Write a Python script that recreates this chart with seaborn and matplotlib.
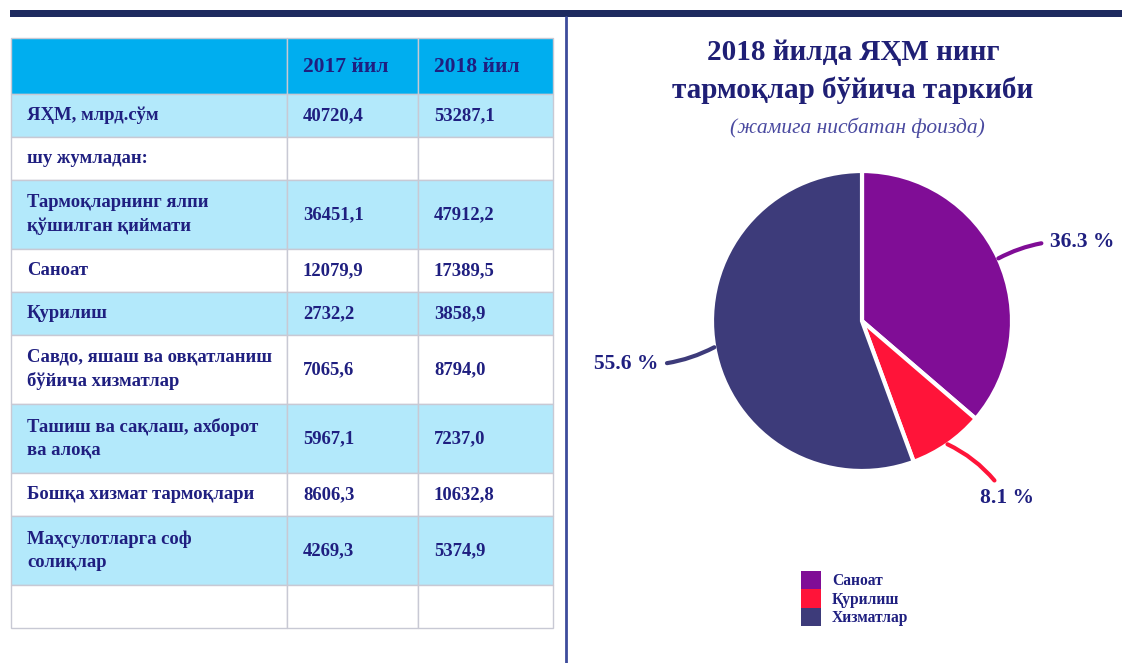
import matplotlib
matplotlib.use("Agg")
import matplotlib.pyplot as plt
import numpy as np
import seaborn as sns
from matplotlib.patches import Patch, Rectangle

# table: ЯҲМ, млрд. сўм
row_labels = [
    "ЯҲМ, млрд.сўм",
    "шу жумладан:",
    "Тармоқларнинг ялпи\nқўшилган қиймати",
    "Саноат",
    "Қурилиш",
    "Савдо, яшаш ва овқатланиш\nбўйича хизматлар",
    "Ташиш ва сақлаш, ахборот\nва алоқа",
    "Бошқа хизмат тармоқлари",
    "Маҳсулотларга соф\nсолиқлар",
    "",
]
values_2017 = [40720.4, None, 36451.1, 12079.9, 2732.2, 7065.6, 5967.1, 8606.3, 4269.3, None]
values_2018 = [53287.1, None, 47912.2, 17389.5, 3858.9, 8794.0, 7237.0, 10632.8, 5374.9, None]
col_headers = ["", "2017 йил", "2018 йил"]

# pie: 2018 structure, % of total
sectors = ["Саноат", "Қурилиш", "Хизматлар"]
shares = [36.3, 8.1, 55.6]
colors = ["#800d96", "#ff1439", "#3d3b7a"]

sns.set_theme(style="white")
plt.rcParams["font.family"] = ["Liberation Serif", "DejaVu Serif"]

TEXT = "#1f1f80"
HEAD = "#00aeef"
LIGHT = "#b3e9fb"
GRID = "#c8c9d4"


def fmt(v):
    return "" if v is None else f"{v:.1f}".replace(".", ",")


W, H = 1122, 663
fig = plt.figure(figsize=(W / 100, H / 100), dpi=100)
fig.patch.set_facecolor("white")
ax = fig.add_axes([0, 0, 1, 1])
ax.set_xlim(0, W)
ax.set_ylim(H, 0)
ax.axis("off")

# frame: top band + vertical divider
ax.fill_between([10, W], 10, 17, color="#1e2a5f", lw=0)
ax.plot([566, 566], [17, H], color="#3d4c9c", lw=2)

# table
col_x = [11, 287, 418, 553]
pad = 16
row_h = {1: 43, 2: 69}
y = 38
for j in range(3):
    ax.add_patch(Rectangle((col_x[j], y), col_x[j + 1] - col_x[j], 56,
                           fc=HEAD, ec=GRID, lw=1))
    ax.text(col_x[j] + pad, y + 29, col_headers[j], fontsize=15.5,
            fontweight="bold", color=TEXT, va="center")
y += 56
for i, (lab, v17, v18) in enumerate(zip(row_labels, values_2017, values_2018)):
    h = row_h[lab.count("\n") + 1]
    fc = LIGHT if i % 2 == 0 else "white"
    for j, txt in enumerate([lab, fmt(v17), fmt(v18)]):
        ax.add_patch(Rectangle((col_x[j], y), col_x[j + 1] - col_x[j], h,
                               fc=fc, ec=GRID, lw=1))
        ax.text(col_x[j] + pad, y + h / 2, txt, fontsize=13.4, fontweight="bold",
                color=TEXT, va="center", linespacing=1.45)
    y += h

# title
ax.text(853, 52, "2018 йилда ЯҲМ нинг", ha="center", va="center",
        fontsize=21, fontweight="bold", color="#1f1f75")
ax.text(853, 90, "тармоқлар бўйича таркиби", ha="center", va="center",
        fontsize=21, fontweight="bold", color="#1f1f75")
ax.text(857, 128, "(жамига нисбатан фоизда)", ha="center", va="center",
        fontsize=15.5, style="italic", color="#4a4aa0")

# pie
cx, cy, R = 862, 321, 150
bw, bh = 520, 360
pax = fig.add_axes([(cx - bw / 2) / W, 1 - (cy + bh / 2) / H, bw / W, bh / H])
wedges, _ = pax.pie(shares, colors=colors, startangle=90, counterclock=False,
                    wedgeprops=dict(edgecolor="white", linewidth=3))
pax.set_xlim(-bw / 2 / R, bw / 2 / R)
pax.set_ylim(-bh / 2 / R, bh / 2 / R)

for w, s, c in zip(wedges, shares, colors):
    ang = np.deg2rad((w.theta1 + w.theta2) / 2)
    x, yy = np.cos(ang), np.sin(ang)
    pax.annotate(f"{s:.1f} %", xy=(x, yy), xytext=(1.38 * x, 1.38 * yy - 0.03),
                 ha="left" if x > 0 else "right", va="center_baseline",
                 fontsize=15.5, fontweight="bold", color=TEXT,
                 arrowprops=dict(arrowstyle="-", color=c, lw=3, shrinkA=4,
                                 shrinkB=0, connectionstyle="arc3,rad=0.15"))

handles = [Patch(facecolor=c, edgecolor="none") for c in colors]
leg = fig.legend(handles, sectors, loc="upper left",
                 bbox_to_anchor=(801 / W, 1 - 571 / H), frameon=False,
                 fontsize=11.2, labelspacing=0, handlelength=1.3,
                 handleheight=1.45, handletextpad=0.7, borderpad=0,
                 borderaxespad=0)
for t in leg.get_texts():
    t.set_color(TEXT)
    t.set_fontweight("bold")

fig.savefig("out.png", dpi=100, facecolor="white")
